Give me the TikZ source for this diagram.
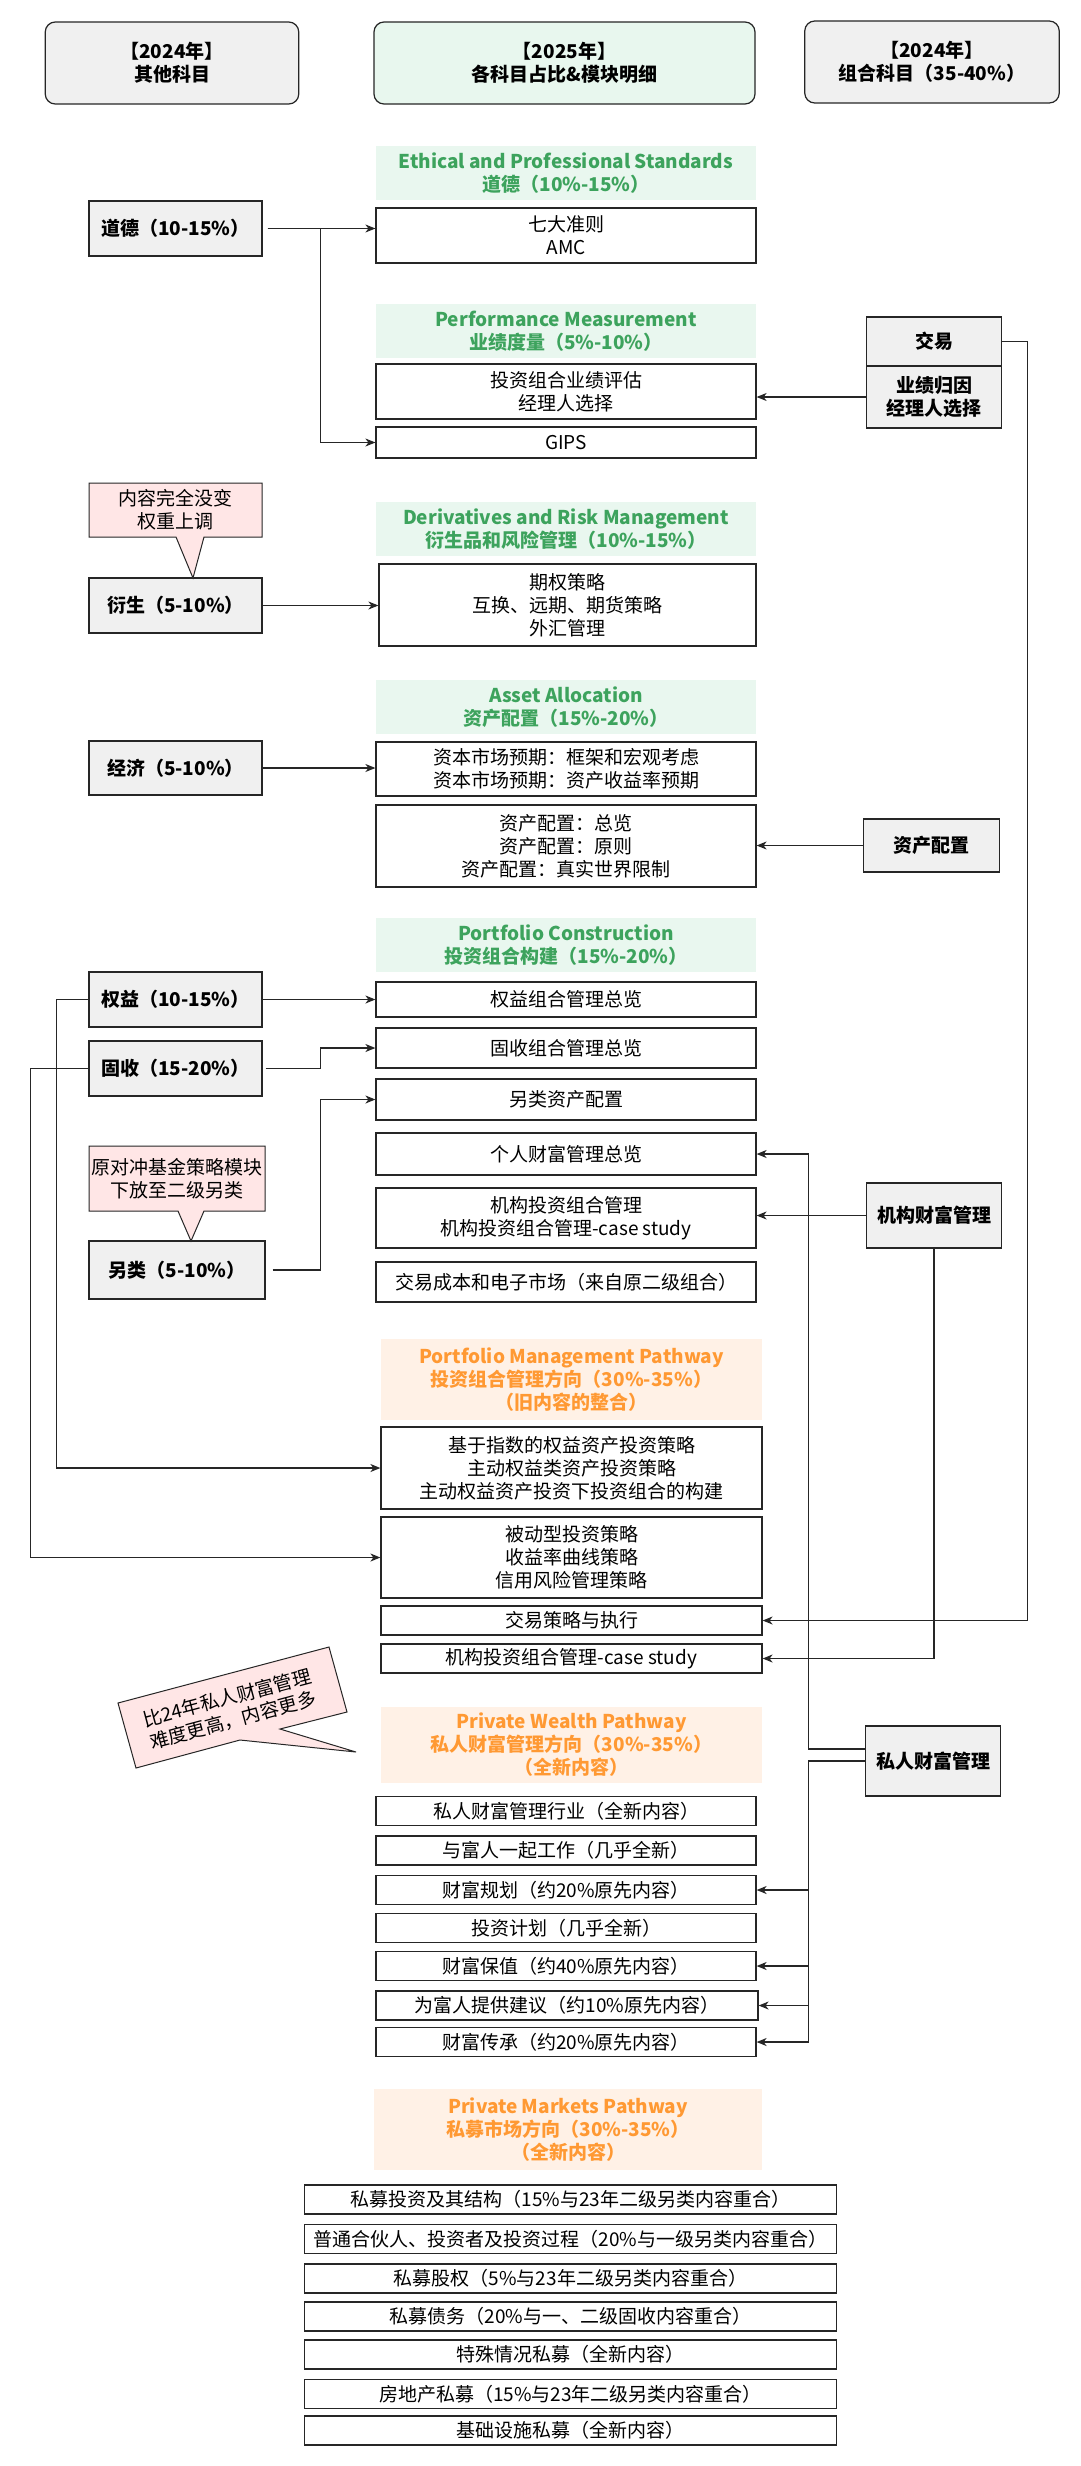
\documentclass[tikz,border=0pt]{standalone}
\usepackage{fontspec}
\setmainfont{Noto Sans CJK SC}
\usetikzlibrary{arrows.meta}
\definecolor{boxgray}{HTML}{F0F0F0}
\definecolor{hdrgreen}{HTML}{E8F7EE}
\definecolor{secgreen}{HTML}{E9F7EF}
\definecolor{txtgreen}{HTML}{3DA35D}
\definecolor{secorange}{HTML}{FFF1E6}
\definecolor{txtorange}{HTML}{FF9933}
\definecolor{notepink}{HTML}{FFE6E6}
\begin{document}
\begin{tikzpicture}[x=1pt,y=-1pt,>={Stealth[length=10pt,width=8pt,inset=3pt]},
	every node/.style={font=\fontsize{19}{23}\selectfont,align=center,inner sep=2pt},
	hdr/.style={draw=black!85,line width=1.2pt,rounded corners=10pt,minimum height=82pt,font=\fontsize{19}{23}\selectfont\bfseries},
	old/.style={draw=black!85,line width=1.2pt,fill=boxgray,minimum width=173pt,font=\fontsize{19}{23}\selectfont\bfseries},
	cur/.style={draw=black!85,line width=1.2pt,fill=boxgray,minimum width=135.5pt,font=\fontsize{19}{23}\selectfont\bfseries},
	sec/.style={fill=secgreen,text=txtgreen,minimum width=380pt,minimum height=54pt,font=\fontsize{19}{23}\selectfont\bfseries},
	way/.style={fill=secorange,text=txtorange,minimum width=381pt,minimum height=81pt,font=\fontsize{19}{23}\selectfont\bfseries},
	item/.style={draw=black!85,line width=1.2pt,fill=white,minimum width=380pt},
	note/.style={draw=black!85,line width=1pt,fill=notepink,line join=miter},
	conn/.style={->,line width=1.2pt,draw=black!85}]
	\fill[white] (0,0) rectangle (1080,2466);
	\useasboundingbox (0,0) rectangle (1080,2466);

	\node[hdr,fill=boxgray,minimum width=253.5pt] (hL) at (172,63) {【2024年】\\其他科目};
	\node[hdr,fill=hdrgreen,minimum width=381pt] (hM) at (564.5,63) {【2025年】\\各科目占比\&模块明细};
	\node[hdr,fill=boxgray,minimum width=254.5pt] (hR) at (932,62) {【2024年】\\组合科目（35-40\%）};

	\node[sec] (sEth) at (566,173) {Ethical and Professional Standards\\道德（10\%-15\%）};
	\node[item,minimum height=55pt] (mEth) at (566,235.5) {七大准则\\AMC};
	\node[sec] (sPerf) at (566,331) {Performance Measurement\\业绩度量（5\%-10\%）};
	\node[item,minimum height=55pt] (mPerf) at (566,391.5) {投资组合业绩评估\\经理人选择};
	\node[item,minimum height=31pt] (mGips) at (566,442.5) {GIPS};
	\node[sec] (sDer) at (566,529) {Derivatives and Risk Management\\衍生品和风险管理（10\%-15\%）};
	\node[item,minimum width=377pt,minimum height=82pt] (mDer) at (567.5,605) {期权策略\\互换、远期、期货策略\\外汇管理};
	\node[sec] (sAA) at (566,707) {Asset Allocation\\资产配置（15\%-20\%）};
	\node[item,minimum height=54pt] (mCme) at (566,769) {资本市场预期：框架和宏观考虑\\资本市场预期：资产收益率预期};
	\node[item,minimum height=82pt] (mAA) at (566,846) {资产配置：总览\\资产配置：原则\\资产配置：真实世界限制};
	\node[sec] (sPC) at (566,945) {Portfolio Construction\\投资组合构建（15\%-20\%）};
	\node[item,minimum height=35pt] (mEq) at (566,999.5) {权益组合管理总览};
	\node[item,minimum height=40pt] (mFi) at (566,1048) {固收组合管理总览};
	\node[item,minimum height=41pt] (mAlt) at (566,1099.5) {另类资产配置};
	\node[item,minimum height=42pt] (mPw) at (566,1154) {个人财富管理总览};
	\node[item,minimum height=60pt] (mInst) at (566,1218) {机构投资组合管理\\机构投资组合管理-case study};
	\node[item,minimum height=40pt] (mTc) at (566,1282) {交易成本和电子市场（来自原二级组合）};

	\node[way] (sPM) at (571.5,1379.5) {Portfolio Management Pathway\\投资组合管理方向（30\%-35\%）\\（旧内容的整合）};
	\node[item,minimum width=381pt,minimum height=82pt] (mIdx) at (571.5,1468) {基于指数的权益资产投资策略\\主动权益类资产投资策略\\主动权益资产投资下投资组合的构建};
	\node[item,minimum width=381pt,minimum height=81pt] (mPas) at (571.5,1557.5) {被动型投资策略\\收益率曲线策略\\信用风险管理策略};
	\node[item,minimum width=381pt,minimum height=29pt] (mTse) at (571.5,1620.5) {交易策略与执行};
	\node[item,minimum width=381pt,minimum height=29pt] (mIpc) at (571.5,1658.5) {机构投资组合管理-case study};

	\node[way,minimum height=76pt] (sPW) at (571.5,1745) {Private Wealth Pathway\\私人财富管理方向（30\%-35\%）\\（全新内容）};
	\node[item,minimum height=29pt] (pw1) at (566,1811) {私人财富管理行业（全新内容）};
	\node[item,minimum height=29pt] (pw2) at (566,1850.5) {与富人一起工作（几乎全新）};
	\node[item,minimum height=29pt] (pw3) at (566,1890) {财富规划（约20\%原先内容）};
	\node[item,minimum height=29pt] (pw4) at (566,1928) {投资计划（几乎全新）};
	\node[item,minimum height=29pt] (pw5) at (566,1966) {财富保值（约40\%原先内容）};
	\node[item,minimum width=382pt,minimum height=29pt] (pw6) at (567,2005.5) {为富人提供建议（约10\%原先内容）};
	\node[item,minimum height=29pt] (pw7) at (566,2042) {财富传承（约20\%原先内容）};

	\node[way,minimum width=388pt] (sPMk) at (568,2129.5) {Private Markets Pathway\\私募市场方向（30\%-35\%）\\（全新内容）};
	\node[item,minimum width=531.5pt,minimum height=29pt] (pm1) at (570.5,2199.5) {私募投资及其结构（15\%与23年二级另类内容重合）};
	\node[item,minimum width=531.5pt,minimum height=29pt] (pm2) at (570.5,2239) {普通合伙人、投资者及投资过程（20\%与一级另类内容重合）};
	\node[item,minimum width=531.5pt,minimum height=29pt] (pm3) at (570.5,2278.5) {私募股权（5\%与23年二级另类内容重合）};
	\node[item,minimum width=531.5pt,minimum height=29pt] (pm4) at (570.5,2316.5) {私募债务（20\%与一、二级固收内容重合）};
	\node[item,minimum width=531.5pt,minimum height=29pt] (pm5) at (570.5,2354.5) {特殊情况私募（全新内容）};
	\node[item,minimum width=531.5pt,minimum height=29pt] (pm6) at (570.5,2394) {房地产私募（15\%与23年二级另类内容重合）};
	\node[item,minimum width=531.5pt,minimum height=29pt] (pm7) at (570.5,2430.5) {基础设施私募（全新内容）};

	\node[old,minimum height=55pt] (lEth) at (175.5,228.5) {道德（10-15\%）};
	\node[old,minimum height=55pt] (lDer) at (175.5,605.5) {衍生（5-10\%）};
	\node[old,minimum height=54pt] (lEco) at (175.5,768) {经济（5-10\%）};
	\node[old,minimum height=55pt] (lEq) at (175.5,999.5) {权益（10-15\%）};
	\node[old,minimum height=55pt] (lFi) at (175.5,1068.5) {固收（15-20\%）};
	\node[old,minimum width=176pt,minimum height=58pt] (lAlt) at (177,1270) {另类（5-10\%）};

	\node[cur,minimum height=49pt] (rTrade) at (934,341.5) {交易};
	\node[cur,minimum height=62pt] (rAttr) at (934,397) {业绩归因\\经理人选择};
	\node[cur,minimum width=136.5pt,minimum height=53pt] (rAA) at (931.5,845.5) {资产配置};
	\node[cur,minimum height=65pt] (rInst) at (934,1215.5) {机构财富管理};
	\node[cur,minimum height=70pt] (rPW) at (933,1761) {私人财富管理};

	\draw[note] (89,483) -- (262,483) -- (262,537) -- (204,537) -- (193,578) -- (176,537) -- (89,537) -- cycle;
	\node (cDer) at (175.5,510) {内容完全没变\\权重上调};
	\draw[note] (89,1146) -- (265,1146) -- (265,1211) -- (204,1211) -- (191,1241) -- (178,1211) -- (89,1211) -- cycle;
	\node (cAlt) at (177,1178.5) {原对冲基金策略模块\\下放至二级另类};
	\draw[note] (118,1703) -- (329,1647) -- (347,1712) -- (280,1729) -- (356,1752) -- (240,1740) -- (136,1768) -- cycle;
	\node[rotate=15] (cPW) at (230,1709) {比24年私人财富管理\\难度更高，内容更多};

	\draw[conn] ([xshift=5pt]lEth.east) -- (lEth.east -| mEth.west);
	\draw[conn] ([xshift=5pt]lEth.east) -- ++(52.7,0) |- (mGips.west);
	\draw[conn] (lDer.east) -- (lDer.east -| mDer.west);
	\draw[conn] (lEco.east) -- (lEco.east -| mCme.west);
	\draw[conn] (lEq.east) -- (lEq.east -| mEq.west);
	\draw[conn] (lEq.west) -- ++(-31.6,0) |- (mIdx.west);
	\draw[conn] ([xshift=3pt]lFi.east) -- ++(54.7,0) |- (mFi.west);
	\draw[conn] (lFi.west) -- ++(-58.3,0) |- (mPas.west);
	\draw[conn] ([xshift=7pt]lAlt.east) -- ++(47.7,0) |- (mAlt.west);

	\draw[conn] (rAttr.west) -- (rAttr.west -| mPerf.east);
	\draw[conn] (rTrade.east) -- ++(25.3,0) |- (mTse.east);
	\draw[conn] (rAA.west) -- (rAA.west -| mAA.east);
	\draw[conn] (rInst.west) -- (rInst.west -| mInst.east);
	\draw[conn] (rInst.south) |- (mIpc.east);
	\draw[conn] ([yshift=12pt]rPW.west) -- ++(-55.8,0) |- (mPw.east);
	\draw[conn] (rPW.west) -- ++(-55.8,0) |- (pw3.east);
	\draw[conn] (rPW.west) -- ++(-55.8,0) |- (pw5.east);
	\draw[conn] (rPW.west) -- ++(-55.8,0) |- (pw6.east);
	\draw[conn] (rPW.west) -- ++(-55.8,0) |- (pw7.east);
\end{tikzpicture}
\end{document}
